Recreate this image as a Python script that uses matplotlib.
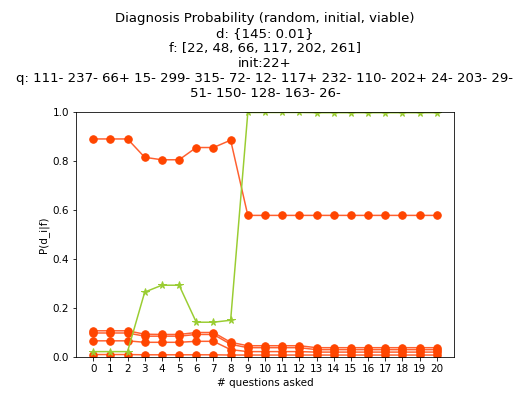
import matplotlib
matplotlib.use("Agg")
import matplotlib.pyplot as plt
import numpy as np

questions = list(range(21))

p_top = [0.890, 0.890, 0.890, 0.815, 0.805, 0.805, 0.855, 0.855, 0.885,
         0.578, 0.578, 0.578, 0.578, 0.578, 0.578, 0.578, 0.578, 0.578, 0.578, 0.578, 0.578]
p_true = [0.022, 0.022, 0.022, 0.265, 0.293, 0.293, 0.142, 0.142, 0.150,
          0.998, 0.998, 0.998, 0.998, 0.997, 0.997, 0.997, 0.997, 0.997, 0.997, 0.997, 0.997]
p_low1 = [0.107, 0.107, 0.107, 0.093, 0.092, 0.092, 0.100, 0.100, 0.060,
          0.046, 0.046, 0.046, 0.046, 0.038, 0.038, 0.038, 0.038, 0.038, 0.038, 0.038, 0.038]
p_low2 = [0.098, 0.098, 0.098, 0.085, 0.085, 0.085, 0.092, 0.092, 0.052,
          0.038, 0.038, 0.038, 0.038, 0.030, 0.030, 0.030, 0.030, 0.030, 0.030, 0.030, 0.030]
p_low3 = [0.066, 0.066, 0.066, 0.060, 0.060, 0.060, 0.064, 0.064, 0.030,
          0.022, 0.022, 0.022, 0.022, 0.020, 0.020, 0.020, 0.020, 0.020, 0.020, 0.020, 0.020]
p_low4 = [0.010, 0.010, 0.010, 0.009, 0.009, 0.009, 0.009, 0.009, 0.008,
          0.008, 0.008, 0.008, 0.008, 0.008, 0.008, 0.008, 0.008, 0.008, 0.008, 0.008, 0.008]

title = ("Diagnosis Probability (random, initial, viable)\n"
         "d: {145: 0.01}\n"
         "f: [22, 48, 66, 117, 202, 261]\n"
         "init:22+\n"
         "q: 111- 237- 66+ 15- 299- 315- 72- 12- 117+ 232- 110- 202+ 24- 203- 29-\n"
         "51- 150- 128- 163- 26-")

plt.rcParams["font.size"] = 10.35

fig = plt.figure(figsize=(519 / 72, 396 / 72), dpi=72)
ax = fig.add_axes([76 / 519, 39 / 396, 378 / 519, 245 / 396])

orange_line = "#ff6030"
orange_mark = "#ff4500"
green = "#9acd32"

for series in (p_low4, p_low3, p_low2, p_low1, p_top):
    ax.plot(questions, series, "-", color=orange_line, marker="o", markersize=7.5,
            markerfacecolor=orange_mark, markeredgecolor=orange_mark, linewidth=1.5)
ax.plot(questions, p_true, "-", color=green, marker="*", markersize=7.5, linewidth=1.5)

ax.set_ylim(0, 1)
ax.set_xticks(questions)
ax.set_xlabel("# questions asked")
ax.set_ylabel("P(d_i|f)")
ax.set_title(title, fontsize=13.2, linespacing=1.2, pad=15)

fig.savefig("out.png", dpi=72)
